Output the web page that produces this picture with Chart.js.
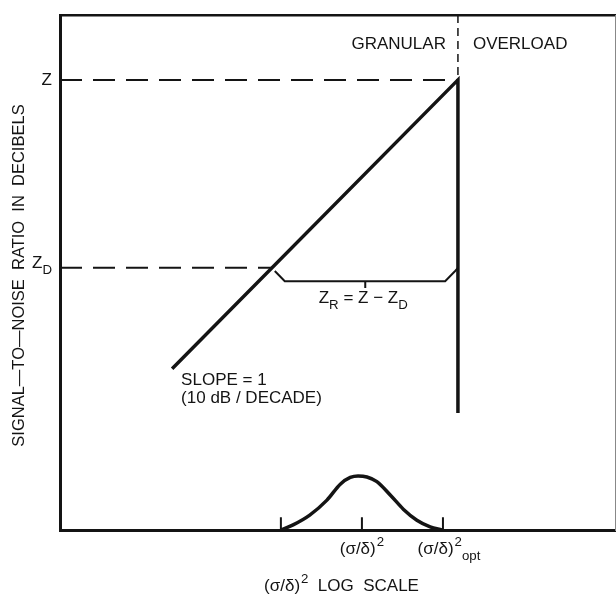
<!DOCTYPE html>
<html>
<head>
<meta charset="utf-8">
<style>
  body { margin: 0; background: #fff; }
</style>
<script src="https://cdn.jsdelivr.net/npm/chart.js@4/dist/chart.umd.min.js"></script>
</head>
<body>
<canvas id="snr_chart" width="616" height="594"></canvas>
<script>
// CHART DATA (x: log scale units, y: dB units)
const snr_x = [20.2, 71.7, 71.7];
const snr_y = [31.3, 87.4, 22.7];

const level_z = 87.4;
const level_zd = 50.9;
const x_opt = 71.7;
const x_zd = 38.2;

const bracket_x = [38.7, 40.5, 69.4, 71.2, 71.7];
const bracket_y = [50.3, 48.3, 48.3, 50.3, 50.9];
const bracket_mid_x = [55.0, 55.0];
const bracket_mid_y = [48.3, 47.0];

const bell_x = [39.8, 42.0, 45.0, 48.1, 50.5, 52.3, 53.7, 55.3, 57.1, 59.5, 61.9, 64.3, 66.7, 68.8];
const bell_y = [0, 1.0, 2.9, 5.8, 8.9, 10.2, 10.5, 10.3, 9.4, 6.8, 4.0, 1.9, 0.6, 0];

const tick_x = [39.8, 54.4, 69.0];
const tick_top = 2.5;
const tick_labels = [null, ['(σ/δ)', '2', ''], ['(σ/δ)', '2', 'opt']];

const ink = '#141414';
const font_family = '"Liberation Sans", Arial, sans-serif';

function toPoints(xs, ys) {
  return xs.map((x, i) => ({ x: x, y: ys[i] }));
}

// short tick marks as one dataset, split by gaps
const tick_points = [];
tick_x.forEach(x => {
  tick_points.push({ x: x, y: 0 }, { x: x, y: tick_top }, { x: x, y: null });
});

function lineSet(data, width, dash) {
  return {
    data: data,
    showLine: true,
    fill: false,
    borderColor: ink,
    borderWidth: width,
    borderDash: dash || [],
    pointRadius: 0,
    tension: 0,
    spanGaps: false,
    borderJoinStyle: 'miter',
    xAxisID: 'x',
    yAxisID: 'y',
  };
}

// draw text with sub/superscript runs, centred or left aligned
function runFont(r, size) {
  return (r.sub || r.sup ? size * 0.78 : size) + 'px ' + font_family;
}

function drawRuns(ctx, runs, x, y, align, size) {
  let widths = runs.map(r => {
    ctx.font = runFont(r, size);
    return ctx.measureText(r.t).width + (r.sup ? 1 : 0);
  });
  let total = widths.reduce((a, b) => a + b, 0);
  let cx = align === 'center' ? x - total / 2 : align === 'right' ? x - total : x;
  runs.forEach((r, i) => {
    ctx.font = runFont(r, size);
    let dy = r.sub ? size * 0.42 : r.sup ? -size * 0.38 : 0;
    ctx.fillText(r.t, cx + (r.sup ? 1 : 0), y + dy);
    cx += widths[i];
  });
}

const labelsPlugin = {
  id: 'labels',
  afterDatasetsDraw(chart) {
    const ctx = chart.ctx;
    const xs = chart.scales.x;
    const ys = chart.scales.y;
    const area = chart.chartArea;
    const size = 17;
    ctx.save();
    ctx.fillStyle = ink;
    ctx.textBaseline = 'middle';
    ctx.textAlign = 'left';

    // region labels
    drawRuns(ctx, [{ t: 'GRANULAR' }], xs.getPixelForValue(x_opt) - 12, area.top + 29, 'right', size);
    drawRuns(ctx, [{ t: 'OVERLOAD' }], xs.getPixelForValue(x_opt) + 15, area.top + 29, 'left', size);

    // y levels
    drawRuns(ctx, [{ t: 'Z' }], area.left - 8, ys.getPixelForValue(level_z), 'right', size);
    drawRuns(ctx, [{ t: 'Z' }, { t: 'D', sub: true }], area.left - 8, ys.getPixelForValue(level_zd) - 5, 'right', size);

    // range
    drawRuns(ctx, [{ t: 'Z' }, { t: 'R', sub: true }, { t: ' = Z − Z' }, { t: 'D', sub: true }],
      xs.getPixelForValue(bracket_mid_x[0]) - 2, ys.getPixelForValue(bracket_mid_y[0]) + 17, 'center', size);

    // slope note
    let sx = xs.getPixelForValue(snr_x[0]) + 9;
    let sy = ys.getPixelForValue(snr_y[0]);
    drawRuns(ctx, [{ t: 'SLOPE = 1' }], sx, sy + 12, 'left', size);
    drawRuns(ctx, [{ t: '(10 dB / DECADE)' }], sx, sy + 30, 'left', size);

    // x tick labels
    tick_labels.forEach((lab, i) => {
      if (!lab) return;
      let runs = [{ t: lab[0] }, { t: lab[1], sup: true }];
      if (lab[2]) runs.push({ t: lab[2], sub: true });
      drawRuns(ctx, runs, xs.getPixelForValue(tick_x[i]) + (lab[2] ? 6 : 0), area.bottom + 19, 'center', size);
    });

    // axis titles
    drawRuns(ctx, [{ t: '(σ/δ)' }, { t: '2', sup: true }, { t: '  LOG  SCALE' }],
      (area.left + area.right) / 2 + 4, area.bottom + 56, 'center', size);
    ctx.translate(19, (area.top + area.bottom) / 2 + 3);
    ctx.rotate(-Math.PI / 2);
    drawRuns(ctx, [{ t: 'SIGNAL—TO—NOISE  RATIO  IN  DECIBELS' }], 0, 0, 'center', 16.5);
    ctx.restore();
  },
};

function noSize(scale) {
  if (scale.isHorizontal()) scale.height = 0;
  else scale.width = 0;
}

function frameAxis(position, width, color) {
  return {
    type: 'linear',
    position: position,
    min: 0,
    max: 100,
    ticks: { display: false },
    grid: { display: false, drawTicks: false },
    border: { display: true, width: width, color: color },
    afterFit: noSize,
  };
}

const my_chart = new Chart(document.getElementById('snr_chart').getContext('2d'), {
  type: 'scatter',
  data: {
    datasets: [
      lineSet(toPoints([0, x_opt], [level_z, level_z]), 2, [22, 11]),
      lineSet(toPoints([0, x_zd], [level_zd, level_zd]), 2, [22, 11]),
      lineSet(toPoints([x_opt, x_opt], [100, level_z]), 1.5, [8, 5]),
      lineSet(toPoints(bracket_x, bracket_y), 2),
      lineSet(toPoints(bracket_mid_x, bracket_mid_y), 2),
      lineSet(toPoints(snr_x, snr_y), 3.5),
      Object.assign(lineSet(toPoints(bell_x, bell_y), 3.5), { cubicInterpolationMode: 'monotone' }),
      lineSet(tick_points, 2),
    ],
  },
  options: {
    responsive: false,
    animation: false,
    layout: { padding: { left: 60, top: 15, right: 1, bottom: 64 } },
    plugins: { legend: { display: false }, tooltip: { enabled: false } },
    scales: {
      x: frameAxis('bottom', 3, ink),
      y: frameAxis('left', 3, ink),
      x_top: frameAxis('top', 2.5, ink),
      y_right: frameAxis('right', 1, '#888'),
    },
  },
  plugins: [labelsPlugin],
});
</script>
</body>
</html>
